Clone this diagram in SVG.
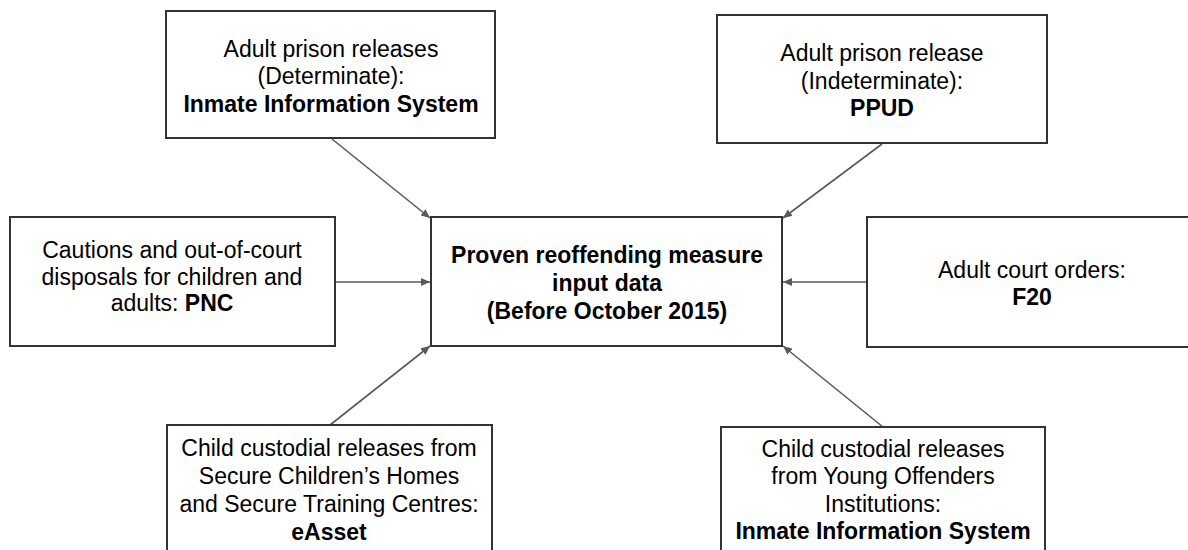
<svg xmlns="http://www.w3.org/2000/svg" width="1188" height="550" viewBox="0 0 1188 550">
  <style>
    .box { fill: #ffffff; stroke: #333333; stroke-width: 2; }
    .t { font-family: "Liberation Sans", Arial, sans-serif; font-size: 23px; fill: #000000; text-anchor: middle; }
    .b { font-weight: bold; }
    .conn { stroke: #595959; stroke-width: 1.6; fill: none; marker-end: url(#arrow); }
  </style>
  <defs>
    <marker id="arrow" markerUnits="userSpaceOnUse" markerWidth="10" markerHeight="8" refX="9" refY="4" orient="auto">
      <path d="M0,0 L9,4 L0,8 z" fill="#595959"/>
    </marker>
  </defs>
  <rect width="1188" height="550" fill="#ffffff"/>

  <g id="connectors">
    <line class="conn" x1="332" y1="139" x2="430" y2="218"/>
    <line class="conn" x1="882" y1="144" x2="783" y2="218"/>
    <line class="conn" x1="335" y1="282" x2="430" y2="282"/>
    <line class="conn" x1="867" y1="282" x2="783" y2="282"/>
    <line class="conn" x1="330" y1="425" x2="430" y2="346"/>
    <line class="conn" x1="883" y1="427" x2="783" y2="346"/>
  </g>

  <g id="adult-determinate">
    <rect class="box" x="166" y="11" width="329" height="127"/>
    <text class="t" x="331" y="56.5">Adult prison releases</text>
    <text class="t" x="331" y="84">(Determinate):</text>
    <text class="t b" x="331" y="111.5">Inmate Information System</text>
  </g>

  <g id="adult-indeterminate">
    <rect class="box" x="717" y="15" width="330" height="128"/>
    <text class="t" x="882" y="61">Adult prison release</text>
    <text class="t" x="882" y="88.5">(Indeterminate):</text>
    <text class="t b" x="882" y="116">PPUD</text>
  </g>

  <g id="cautions">
    <rect class="box" x="10" y="217" width="325" height="129"/>
    <text class="t" x="172" y="258">Cautions and out-of-court</text>
    <text class="t" x="172" y="284.5">disposals for children and</text>
    <text class="t" x="172" y="311"><tspan>adults: </tspan><tspan class="b">PNC</tspan></text>
  </g>

  <g id="input-data">
    <rect class="box" x="431" y="217" width="351" height="129"/>
    <text class="t b" x="607" y="263">Proven reoffending measure</text>
    <text class="t b" x="607" y="291">input data</text>
    <text class="t b" x="607" y="319">(Before October 2015)</text>
  </g>

  <g id="court-orders">
    <rect class="box" x="867" y="217" width="330" height="130"/>
    <text class="t" x="1032" y="277.5">Adult court orders:</text>
    <text class="t b" x="1032" y="305">F20</text>
  </g>

  <g id="child-sch-stc">
    <rect class="box" x="167" y="425" width="325" height="140"/>
    <text class="t" x="329" y="456">Child custodial releases from</text>
    <text class="t" x="329" y="484">Secure Children’s Homes</text>
    <text class="t" x="329" y="512">and Secure Training Centres:</text>
    <text class="t b" x="329" y="539.5">eAsset</text>
  </g>

  <g id="child-yoi">
    <rect class="box" x="721" y="427" width="324" height="140"/>
    <text class="t" x="883" y="456.5">Child custodial releases</text>
    <text class="t" x="883" y="484">from Young Offenders</text>
    <text class="t" x="883" y="511.5">Institutions:</text>
    <text class="t b" x="883" y="538.5">Inmate Information System</text>
  </g>
</svg>
